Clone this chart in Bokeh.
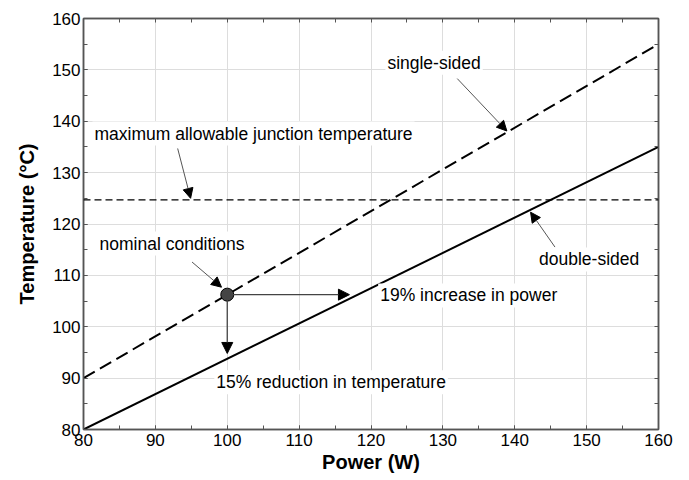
from bokeh.plotting import figure
from bokeh.models import (LinearAxis, SingleIntervalTicker, FixedTicker, Range1d, Label,
                          Arrow, NormalHead, Span)
from bokeh.embed import file_html
from bokeh.resources import INLINE

# ---- data ----
power = [80, 160]
single_sided = [90, 155]
double_sided = [80, 135]
tj_max = 124.7
nominal_power = [100]
nominal_temp = [106.25]
power_increase_end = 117.0     # arrow tip on x (W)
temp_reduction_end = 94.8      # arrow tip on y (°C)
minor_ticks = [80, 85, 90, 95, 100, 105, 110, 115, 120, 125, 130, 135, 140, 145, 150, 155, 160]

FONT = "Liberation Sans"

p = figure(width=689, height=480, output_backend="svg", toolbar_location=None,
           x_range=Range1d(80, 160), y_range=Range1d(80, 160),
           min_border_left=83, min_border_right=31, min_border_top=18,
           min_border_bottom=51, x_axis_label="Power (W)",
           y_axis_label="Temperature (°C)")
p.outline_line_color = "#555555"
p.outline_line_width = 1.5
p.background_fill_color = "white"
p.border_fill_color = "white"

for ax in (p.xaxis[0], p.yaxis[0]):
    ax.ticker = SingleIntervalTicker(interval=10, num_minor_ticks=2)
    ax.major_tick_in = 4
    ax.major_tick_out = 0
    ax.minor_tick_in = 4
    ax.minor_tick_out = 0
    ax.axis_line_color = "#555555"
    ax.axis_line_width = 1.5
    ax.major_tick_line_color = "#555555"
    ax.minor_tick_line_color = "#555555"
    ax.major_label_text_font = FONT
    ax.major_label_text_font_size = "17px"
    ax.major_label_text_color = "black"
    ax.axis_label_text_font = FONT
    ax.axis_label_text_font_size = "20px"
    ax.axis_label_text_font_style = "bold"
    ax.axis_label_text_color = "black"
p.xaxis[0].major_label_standoff = 4
p.xaxis[0].axis_label_standoff = 2
p.yaxis[0].major_label_standoff = 3
p.yaxis[0].axis_label_standoff = 11

for loc in ("above", "right"):
    ax = LinearAxis(ticker=FixedTicker(ticks=[], minor_ticks=minor_ticks),
                    minor_tick_in=4, minor_tick_out=0, major_tick_in=0, major_tick_out=0,
                    major_label_standoff=0,
                    axis_line_color="#555555", axis_line_width=1.5,
                    minor_tick_line_color="#555555")
    p.add_layout(ax, loc)

p.xgrid.grid_line_color = "#dddddd"
p.ygrid.grid_line_color = "#dddddd"
p.xgrid.ticker = SingleIntervalTicker(interval=10)
p.ygrid.ticker = SingleIntervalTicker(interval=10)

# ---- lines ----
p.line(power, single_sided, line_color="black", line_width=2, line_dash="13 6")
p.line(power, double_sided, line_color="black", line_width=2)
p.add_layout(Span(location=tj_max, dimension="width", line_color="black",
                  line_width=1.3, line_dash="7 4"))

# ---- nominal point arrows ----
def arrow(x0, y0, x1, y1, color, width, size=10):
    p.add_layout(Arrow(x_start=x0, y_start=y0, x_end=x1, y_end=y1,
                       line_color=color, line_width=width,
                       end=NormalHead(size=size, fill_color="black", line_color="black",
                                      line_width=1)))

arrow(nominal_power[0], nominal_temp[0], power_increase_end, nominal_temp[0], "#444444", 1.3, 11)
arrow(nominal_power[0], nominal_temp[0], nominal_power[0], temp_reduction_end, "#444444", 1.3, 11)

p.scatter(nominal_power, nominal_temp, size=13, fill_color="#444444", line_color="black",
          line_width=1)

# ---- annotation arrows ----
arrow(93.1, 134.7, 94.9, 125.0, "#555555", 1, 10)
arrow(132.0, 148.3, 138.9, 138.1, "#555555", 1, 10)
arrow(145.6, 115.5, 142.2, 122.3, "#555555", 1, 10)
arrow(95.1, 112.6, 99.2, 107.7, "#555555", 1, 10)

# ---- labels ----
def label(x, y, text):
    p.add_layout(Label(x=x, y=y, text=text, text_font=FONT, text_font_size="17.5px",
                       text_color="black", text_baseline="middle", text_align="left",
                       background_fill_color="white", padding=2))

label(81.25, 137.6, "maximum allowable junction temperature")
label(122.0, 151.4, "single-sided")
label(81.95, 116.2, "nominal conditions")
label(121.0, 106.1, "19% increase in power")
label(98.2, 89.2, "15% reduction in temperature")
label(143.1, 113.1, "double-sided")

open("out.html", "w").write(file_html(p, INLINE))
